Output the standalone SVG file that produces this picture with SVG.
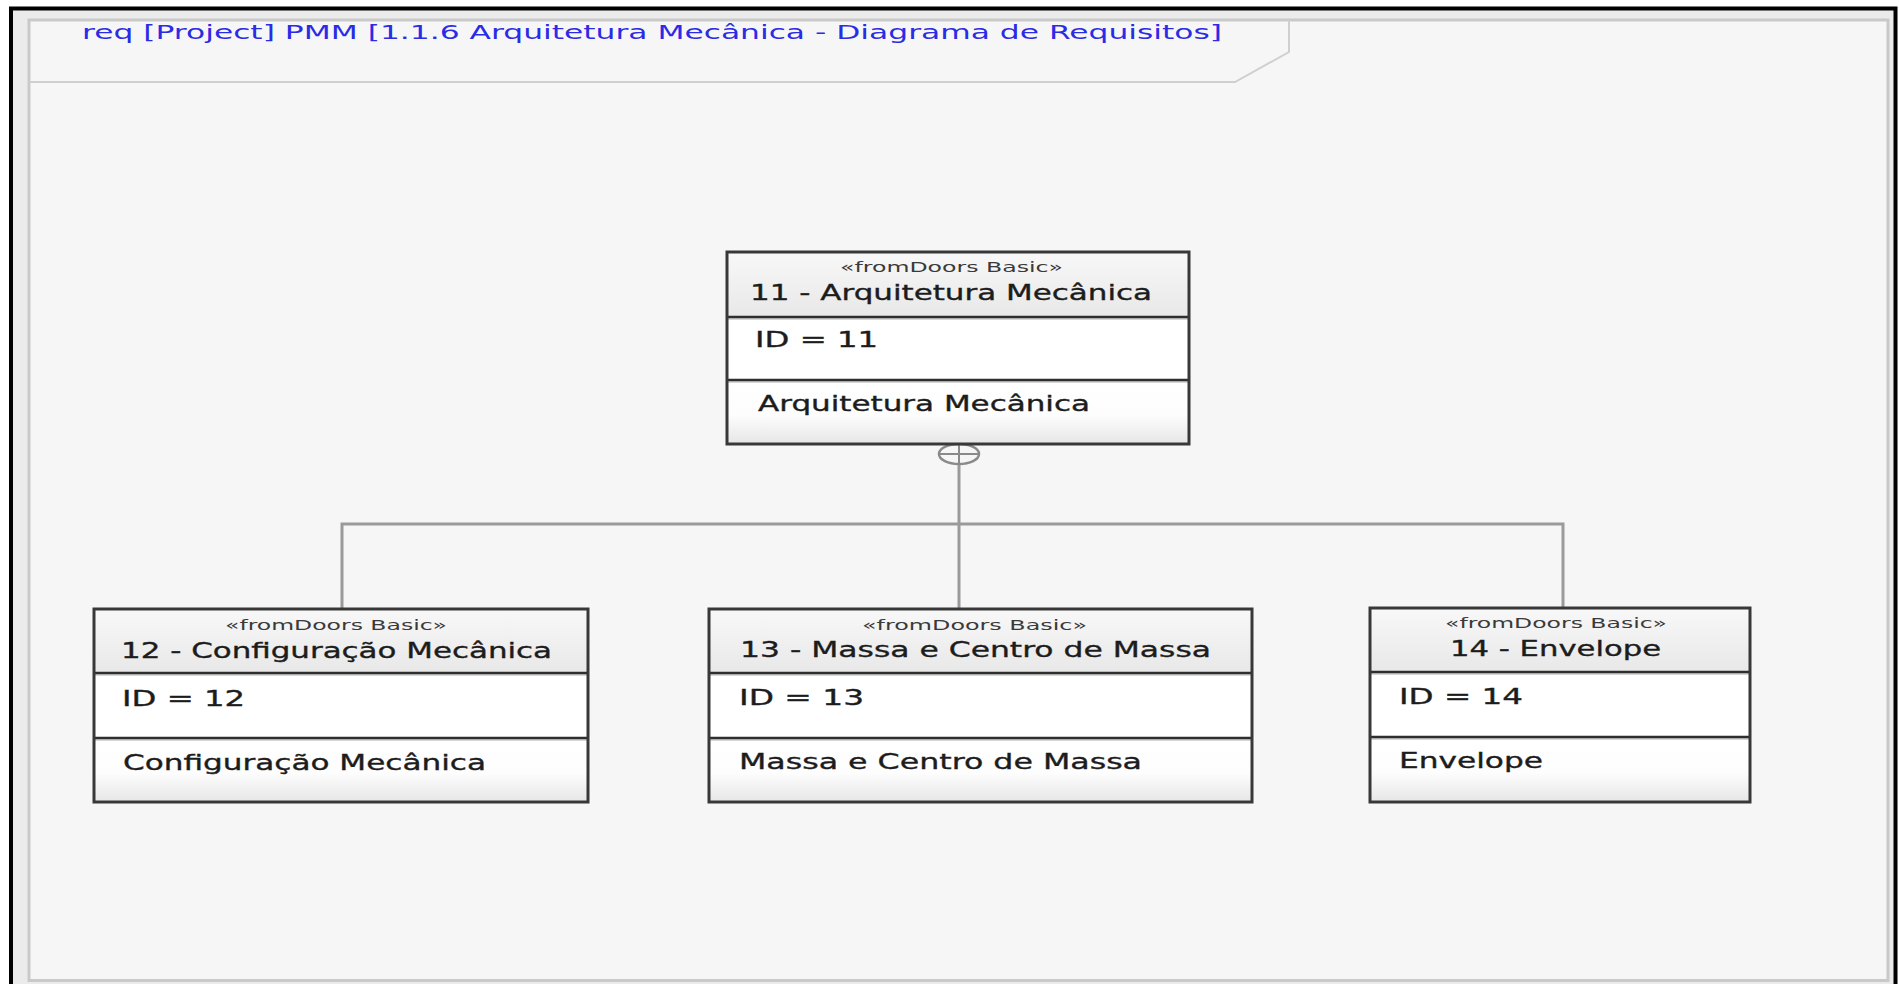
<svg xmlns="http://www.w3.org/2000/svg" width="1899" height="984" viewBox="0 0 1899 984">
<style>
  .t { font-family: "DejaVu Sans", "Liberation Sans", sans-serif; fill: #1c1c1c; stroke: #1c1c1c; stroke-width: 0.35; }
  .st { font-size: 14px; fill: #3a3a3a; stroke: none; }
  .ti { font-size: 22px; }
  .bd { font-size: 22px; }
  .box { fill: none; stroke: #383838; stroke-width: 3; }
  .div { stroke: #2e2e2e; stroke-width: 2.5; }
  .divs { stroke: #c8c8c8; stroke-width: 1.5; }
  .con { fill: none; stroke: #9a9a9a; stroke-width: 3; }
</style>
<defs>
  <linearGradient id="hdr" x1="0" y1="0" x2="0" y2="1">
    <stop offset="0" stop-color="#f8f8f8"/>
    <stop offset="1" stop-color="#e8e8e8"/>
  </linearGradient>
  <linearGradient id="bot" x1="0" y1="0" x2="0" y2="1">
    <stop offset="0" stop-color="#ffffff"/>
    <stop offset="0.55" stop-color="#fdfdfd"/>
    <stop offset="1" stop-color="#e6e6e6"/>
  </linearGradient>
</defs>
<rect x="0" y="0" width="1899" height="984" fill="#ffffff"/>
<!-- outer black frame -->
<rect x="11" y="8.5" width="1884.5" height="990" fill="#ebebeb" stroke="#000000" stroke-width="4"/>
<!-- diagram frame -->
<rect x="29" y="20" width="1859" height="960.5" fill="#f6f6f6" stroke="#c9c9c9" stroke-width="3"/>
<path d="M 29 82 L 1235 82 L 1289 52 L 1289 20" fill="none" stroke="#cfcfcf" stroke-width="2"/>
<text x="82" y="39" font-family="DejaVu Sans, Liberation Sans, sans-serif" font-size="20" fill="#2b2be6" textLength="1140" lengthAdjust="spacingAndGlyphs">req [Project] PMM [1.1.6 Arquitetura Mecânica - Diagrama de Requisitos]</text>

<g id="connectors">
  <line class="con" x1="959" y1="465" x2="959" y2="610"/>
  <polyline class="con" points="342,609 342,524 1563,524 1563,608"/>
  <ellipse cx="959" cy="454" rx="20" ry="10" fill="#f6f6f6" stroke="#8a8a8a" stroke-width="2.5"/>
  <line x1="939" y1="454" x2="979" y2="454" stroke="#8a8a8a" stroke-width="2"/>
  <line x1="959" y1="444" x2="959" y2="464" stroke="#8a8a8a" stroke-width="2"/>
</g>

<g id="node11">
  <rect x="727" y="252" width="462" height="65" fill="url(#hdr)"/>
  <rect x="727" y="317" width="462" height="63" fill="#ffffff"/>
  <rect x="727" y="380" width="462" height="64" fill="url(#bot)"/>
  <line class="divs" x1="728" y1="319" x2="1188" y2="319"/>
  <line class="divs" x1="728" y1="382" x2="1188" y2="382"/>
  <line class="div" x1="727" y1="317" x2="1189" y2="317"/>
  <line class="div" x1="727" y1="380" x2="1189" y2="380"/>
  <rect class="box" x="727" y="252" width="462" height="192"/>
  <text class="t st" x="840" y="272" textLength="223" lengthAdjust="spacingAndGlyphs">«fromDoors Basic»</text>
  <text class="t ti" x="750" y="300" textLength="402" lengthAdjust="spacingAndGlyphs">11 - Arquitetura Mecânica</text>
  <text class="t bd" x="755" y="347" textLength="123" lengthAdjust="spacingAndGlyphs">ID = 11</text>
  <text class="t bd" x="758" y="411" textLength="332" lengthAdjust="spacingAndGlyphs">Arquitetura Mecânica</text>
</g>

<g id="node12">
  <rect x="94" y="609" width="494" height="64" fill="url(#hdr)"/>
  <rect x="94" y="673" width="494" height="65" fill="#ffffff"/>
  <rect x="94" y="738" width="494" height="64" fill="url(#bot)"/>
  <line class="divs" x1="95" y1="675" x2="587" y2="675"/>
  <line class="divs" x1="95" y1="740" x2="587" y2="740"/>
  <line class="div" x1="94" y1="673" x2="588" y2="673"/>
  <line class="div" x1="94" y1="738" x2="588" y2="738"/>
  <rect class="box" x="94" y="609" width="494" height="193"/>
  <text class="t st" x="225" y="630" textLength="222" lengthAdjust="spacingAndGlyphs">«fromDoors Basic»</text>
  <text class="t ti" x="121" y="658" textLength="431" lengthAdjust="spacingAndGlyphs">12 - Configuração Mecânica</text>
  <text class="t bd" x="122" y="706" textLength="123" lengthAdjust="spacingAndGlyphs">ID = 12</text>
  <text class="t bd" x="123" y="770" textLength="363" lengthAdjust="spacingAndGlyphs">Configuração Mecânica</text>
</g>

<g id="node13">
  <rect x="709" y="609" width="543" height="64" fill="url(#hdr)"/>
  <rect x="709" y="673" width="543" height="65" fill="#ffffff"/>
  <rect x="709" y="738" width="543" height="64" fill="url(#bot)"/>
  <line class="divs" x1="710" y1="675" x2="1251" y2="675"/>
  <line class="divs" x1="710" y1="740" x2="1251" y2="740"/>
  <line class="div" x1="709" y1="673" x2="1252" y2="673"/>
  <line class="div" x1="709" y1="738" x2="1252" y2="738"/>
  <rect class="box" x="709" y="609" width="543" height="193"/>
  <text class="t st" x="862" y="630" textLength="225" lengthAdjust="spacingAndGlyphs">«fromDoors Basic»</text>
  <text class="t ti" x="740" y="657" textLength="471" lengthAdjust="spacingAndGlyphs">13 - Massa e Centro de Massa</text>
  <text class="t bd" x="739" y="705" textLength="125" lengthAdjust="spacingAndGlyphs">ID = 13</text>
  <text class="t bd" x="739" y="769" textLength="403" lengthAdjust="spacingAndGlyphs">Massa e Centro de Massa</text>
</g>

<g id="node14">
  <rect x="1370" y="608" width="380" height="64" fill="url(#hdr)"/>
  <rect x="1370" y="672" width="380" height="65" fill="#ffffff"/>
  <rect x="1370" y="737" width="380" height="65" fill="url(#bot)"/>
  <line class="divs" x1="1371" y1="674" x2="1749" y2="674"/>
  <line class="divs" x1="1371" y1="739" x2="1749" y2="739"/>
  <line class="div" x1="1370" y1="672" x2="1750" y2="672"/>
  <line class="div" x1="1370" y1="737" x2="1750" y2="737"/>
  <rect class="box" x="1370" y="608" width="380" height="194"/>
  <text class="t st" x="1445" y="628" textLength="222" lengthAdjust="spacingAndGlyphs">«fromDoors Basic»</text>
  <text class="t ti" x="1450" y="656" textLength="211" lengthAdjust="spacingAndGlyphs">14 - Envelope</text>
  <text class="t bd" x="1399" y="704" textLength="124" lengthAdjust="spacingAndGlyphs">ID = 14</text>
  <text class="t bd" x="1399" y="768" textLength="144" lengthAdjust="spacingAndGlyphs">Envelope</text>
</g>
</svg>
